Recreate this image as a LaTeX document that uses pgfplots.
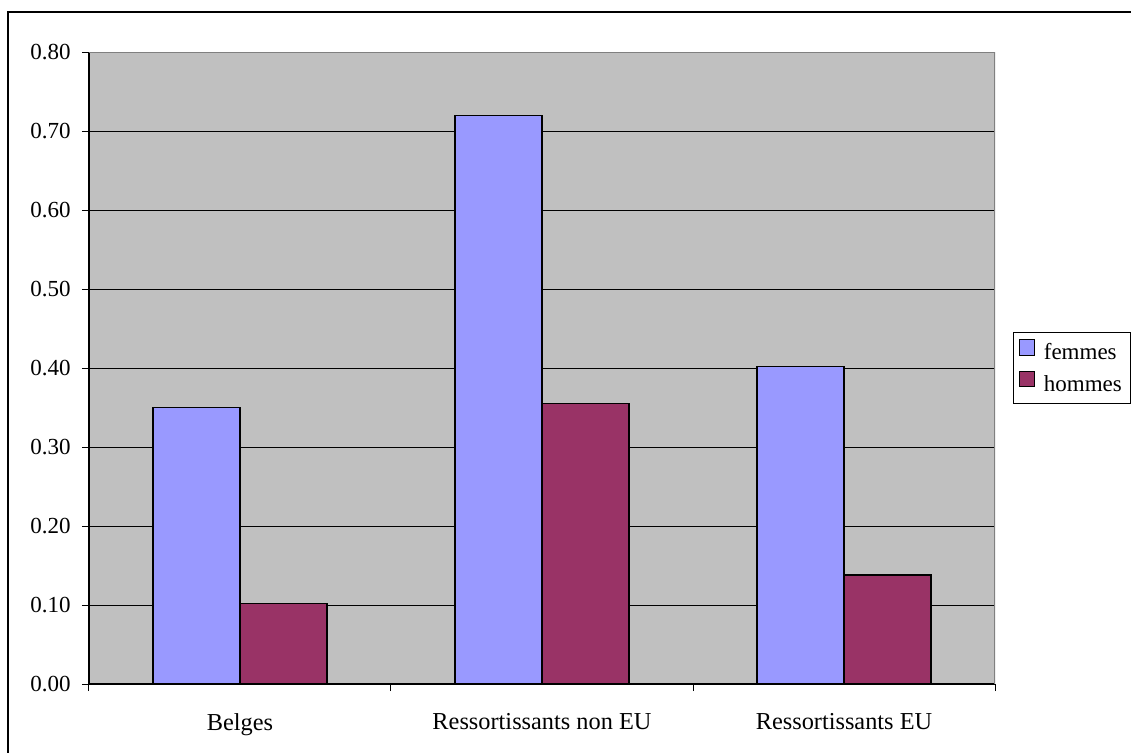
\documentclass[border=0pt]{standalone}
\usepackage{fontspec}
\setmainfont{Liberation Serif}
\usepackage{pgfplots}
\pgfplotsset{compat=1.18}

\definecolor{femmesC}{HTML}{9999FF}
\definecolor{hommesC}{HTML}{993366}
\definecolor{plotBg}{HTML}{C0C0C0}
\definecolor{borderGray}{HTML}{808080}

\begin{document}
\begin{tikzpicture}[x=0.6pt,y=0.6pt]
\useasboundingbox (0,0) rectangle (1131,752);
% outer chart frame (left and top edges)
\draw[black,line width=1pt] (8,-20) -- (8,740) -- (1160,740);

\begin{axis}[
  at={(53.4pt,40.8pt)}, anchor=south west,
  scale only axis,
  width=543.6pt, height=379.2pt,
  xmin=-0.5, xmax=2.5,
  ymin=0, ymax=0.8,
  axis lines=left,
  axis line style={-, black, line width=0.7pt},
  axis background/.style={fill=plotBg},
  ytick={0,0.1,...,0.8},
  ymajorgrids,
  grid style={black, line width=0.6pt},
  tick align=outside,
  major tick length=4.2pt,
  tick style={black, line width=0.6pt},
  /pgf/number format/fixed,
  /pgf/number format/fixed zerofill,
  /pgf/number format/precision=2,
  /pgf/number format/assume math mode=true,
  yticklabel style={xshift=-3.3pt, font=\fontsize{13.8}{16}\selectfont},
  xtick={-0.5,0.5,1.5,2.5},
  xticklabels={},
  extra x ticks={0,1,2},
  extra x tick labels={Belges, Ressortissants non EU, Ressortissants EU},
  extra x tick style={major tick length=0pt,
    xticklabel style={yshift=-14pt, font=\fontsize{14.6}{17}\selectfont}},
  ybar, bar width=0.288,
  legend style={
    at={(1.02,0.5)}, anchor=west,
    draw=black, fill=white, line width=0.6pt,
    font=\fontsize{13.8}{16}\selectfont,
    cells={anchor=west},
    row sep=3pt,
    inner xsep=3pt, inner ysep=4pt,
  },
  legend image code/.code={
    \draw[#1, draw=black, line width=0.6pt] (1.5pt,-1.5pt) rectangle (11pt,8pt);
    \path (14pt,0pt);
  },
]
\addplot[fill=femmesC, draw=black, line width=0.7pt, bar shift=-0.144]
  coordinates {(0,0.350) (1,0.720) (2,0.402)};
\addplot[fill=hommesC, draw=black, line width=0.7pt, bar shift=0.144]
  coordinates {(0,0.102) (1,0.355) (2,0.138)};
\legend{femmes, hommes}
% plot area border on the top and right sides
\draw[borderGray, line width=1pt] (rel axis cs:0,1) -- (rel axis cs:1,1) -- (rel axis cs:1,0);
\end{axis}
\end{tikzpicture}
\end{document}
